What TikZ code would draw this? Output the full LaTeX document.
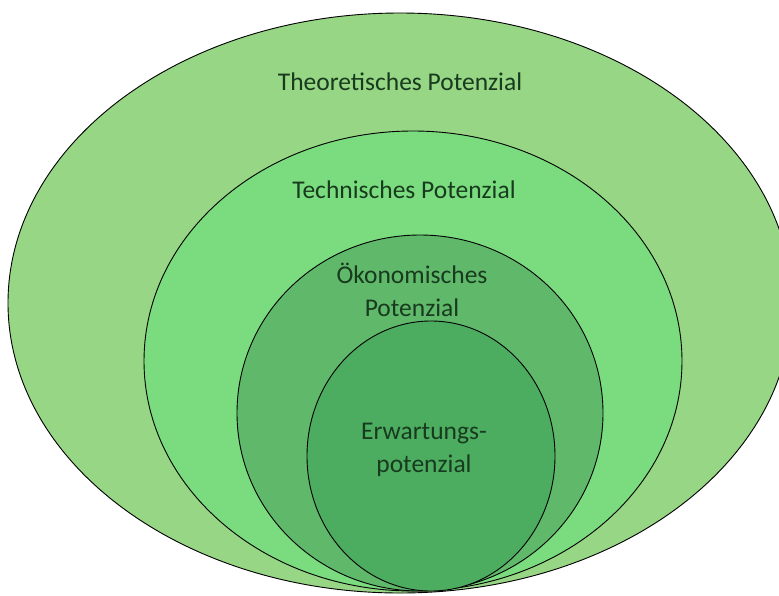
\documentclass[tikz,border=0pt]{standalone}
\usepackage{fontspec}
\setmainfont{Carlito}
\definecolor{cTheo}{RGB}{150,214,132}
\definecolor{cTech}{RGB}{122,220,126}
\definecolor{cOeko}{RGB}{96,184,106}
\definecolor{cErw}{RGB}{76,172,96}
\definecolor{cText}{RGB}{24,58,30}
\tikzset{
  ring/.style={draw=black, line width=0.9pt},
  lbl/.style={text=cText, align=center, inner sep=0pt, font=\fontsize{25.5}{33}\selectfont}
}
\begin{document}
\begin{tikzpicture}[x=1pt,y=-1pt]
\useasboundingbox (0,0) rectangle (779,595);
\fill[white] (0,0) rectangle (779,595);
\clip (0,0) rectangle (779,595);
\draw[ring, fill=cTheo] (400,303) ellipse [x radius=392pt, y radius=290pt];
\draw[ring, fill=cTech] (413,361) ellipse [x radius=269pt, y radius=230pt];
\draw[ring, fill=cOeko] (420,413) ellipse [x radius=183pt, y radius=178pt];
\draw[ring, fill=cErw] (431,456) ellipse [x radius=124pt, y radius=135pt];
\node[lbl] (theo) at (400,82) {Theoretisches Potenzial};
\node[lbl] (tech) at (404,190) {Technisches Potenzial};
\node[lbl] (oeko) at (412,290) {Ökonomisches\\Potenzial};
\node[lbl] (erw) at (424,450) {Erwartungs-\\potenzial};
\end{tikzpicture}
\end{document}
